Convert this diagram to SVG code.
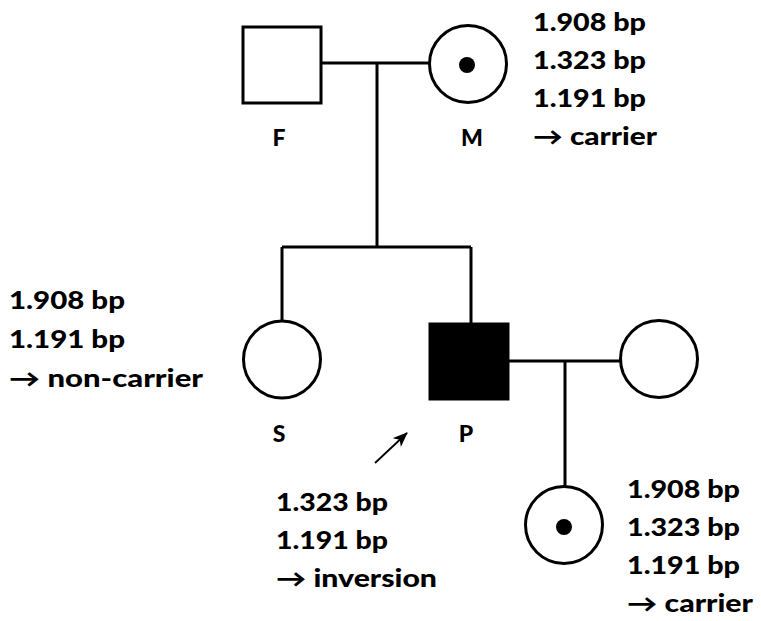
<svg xmlns="http://www.w3.org/2000/svg" width="761" height="621" viewBox="0 0 761 621">
<style>
.ln{stroke:#000;stroke-width:3;fill:none}
.sym{stroke:#000;stroke-width:3;fill:#fff}
.aff{stroke:#000;stroke-width:3;fill:#000}
.dot{fill:#000}
.t{font-family:Lato,"Liberation Sans","DejaVu Sans",sans-serif;font-weight:900;font-size:24px;fill:#000}
.lab{font-family:Lato,"Liberation Sans","DejaVu Sans",sans-serif;font-weight:900;font-size:23px;fill:#000;text-anchor:middle}
</style>
<defs>
<marker id="ah" viewBox="0 0 15 12" refX="14" refY="6" markerWidth="15" markerHeight="12" markerUnits="userSpaceOnUse" orient="auto">
<path d="M0,0 L15,6 L0,12 L4,6 z" fill="#000"/>
</marker>
</defs>
<rect width="761" height="621" fill="#fff"/>
<g id="connectors">
<path class="ln" d="M321,63 H429"/>
<path class="ln" d="M377,63 V247"/>
<path class="ln" d="M282,247 H471"/>
<path class="ln" d="M282,247 V321"/>
<path class="ln" d="M471,247 V323"/>
<path class="ln" d="M509,361 H621"/>
<path class="ln" d="M565,361 V487"/>
<path d="M375,463 L407,433" stroke="#000" stroke-width="1.8" fill="none" marker-end="url(#ah)"/>
</g>
<g id="F">
<rect class="sym" x="243" y="27" width="78" height="76"/>
<text class="lab" x="279" y="146">F</text>
</g>
<g id="M">
<circle class="sym" cx="468" cy="64" r="38.5"/>
<circle class="dot" cx="467" cy="65" r="8"/>
<text class="lab" x="472" y="146">M</text>
<text class="t" x="533" y="31" textLength="113" lengthAdjust="spacingAndGlyphs">1.908 bp</text>
<text class="t" x="533" y="69" textLength="113" lengthAdjust="spacingAndGlyphs">1.323 bp</text>
<text class="t" x="533" y="107" textLength="113" lengthAdjust="spacingAndGlyphs">1.191 bp</text>
<text class="t" x="533" y="145" textLength="124" lengthAdjust="spacingAndGlyphs">→ carrier</text>
</g>
<g id="S">
<circle class="sym" cx="282" cy="359.5" r="38.5"/>
<text class="lab" x="279" y="442">S</text>
<text class="t" x="9" y="309" textLength="116" lengthAdjust="spacingAndGlyphs">1.908 bp</text>
<text class="t" x="9" y="348" textLength="116" lengthAdjust="spacingAndGlyphs">1.191 bp</text>
<text class="t" x="9" y="387" textLength="194" lengthAdjust="spacingAndGlyphs">→ non-carrier</text>
</g>
<g id="P">
<rect class="aff" x="430" y="324" width="78" height="75"/>
<text class="lab" x="466" y="442">P</text>
<text class="t" x="276" y="511" textLength="112" lengthAdjust="spacingAndGlyphs">1.323 bp</text>
<text class="t" x="276" y="549" textLength="112" lengthAdjust="spacingAndGlyphs">1.191 bp</text>
<text class="t" x="276" y="587" textLength="161" lengthAdjust="spacingAndGlyphs">→ inversion</text>
</g>
<g id="W">
<circle class="sym" cx="659" cy="359" r="38.5"/>
</g>
<g id="D">
<circle class="sym" cx="564" cy="525" r="38.5"/>
<circle class="dot" cx="564" cy="527" r="8"/>
<text class="t" x="627" y="498" textLength="113" lengthAdjust="spacingAndGlyphs">1.908 bp</text>
<text class="t" x="627" y="536" textLength="113" lengthAdjust="spacingAndGlyphs">1.323 bp</text>
<text class="t" x="627" y="574" textLength="113" lengthAdjust="spacingAndGlyphs">1.191 bp</text>
<text class="t" x="627" y="612" textLength="126" lengthAdjust="spacingAndGlyphs">→ carrier</text>
</g>
</svg>
